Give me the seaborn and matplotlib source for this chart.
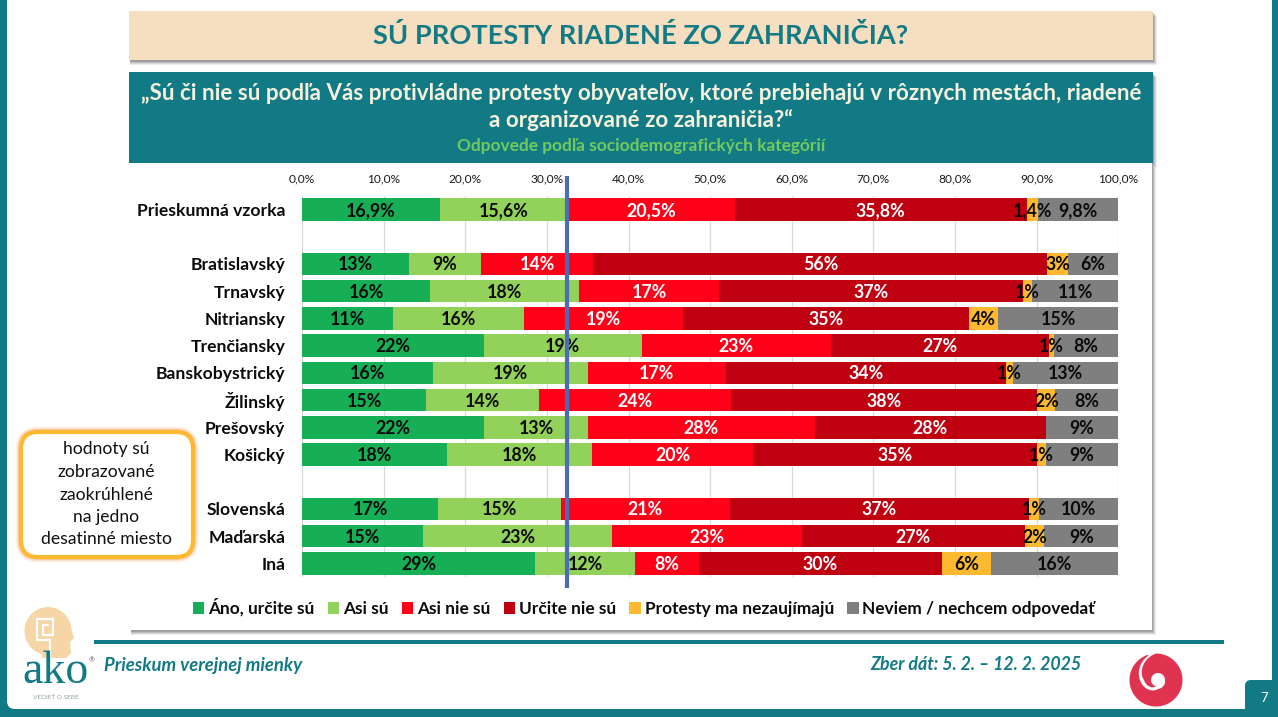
import numpy as np
import pandas as pd
import matplotlib
matplotlib.use("Agg")
import matplotlib.pyplot as plt
from matplotlib.patches import FancyBboxPatch, Rectangle, Ellipse, Polygon
import seaborn as sns

categories = ["Prieskumná vzorka", " ", "Bratislavský", "Trnavský", "Nitriansky", "Trenčiansky",
              "Banskobystrický", "Žilinský", "Prešovský", "Košický", "  ", "Slovenská", "Maďarská", "Iná"]
series_names = ["Áno, určite sú", "Asi sú", "Asi nie sú", "Určite nie sú",
                "Protesty ma nezaujímajú", "Neviem / nechcem odpovedať"]
ano = [16.9, 0, 13.1, 15.7, 11.1, 22.3, 16.1, 15.2, 22.3, 17.8, 0, 16.7, 14.8, 28.6]
asi = [15.6, 0, 8.8, 18.2, 16.1, 19.3, 18.9, 13.8, 12.7, 17.7, 0, 15.0, 23.2, 12.2]
asi_nie = [20.5, 0, 13.8, 17.2, 19.5, 23.2, 16.9, 23.6, 27.8, 19.8, 0, 20.7, 23.2, 7.8]
urcite_nie = [35.8, 0, 55.6, 37.2, 35.0, 26.7, 34.3, 37.5, 28.3, 34.7, 0, 36.6, 27.4, 29.8]
nezaujem = [1.4, 0, 2.5, 1.1, 3.6, 0.6, 0.9, 2.2, 0.0, 1.1, 0, 1.3, 2.3, 6.0]
neviem = [9.8, 0, 6.2, 10.6, 14.7, 7.9, 12.9, 7.8, 8.9, 8.9, 0, 9.7, 9.1, 15.6]

lab_ano = ["16,9%", "", "13%", "16%", "11%", "22%", "16%", "15%", "22%", "18%", "", "17%", "15%", "29%"]
lab_asi = ["15,6%", "", "9%", "18%", "16%", "19%", "19%", "14%", "13%", "18%", "", "15%", "23%", "12%"]
lab_asi_nie = ["20,5%", "", "14%", "17%", "19%", "23%", "17%", "24%", "28%", "20%", "", "21%", "23%", "8%"]
lab_urcite_nie = ["35,8%", "", "56%", "37%", "35%", "27%", "34%", "38%", "28%", "35%", "", "37%", "27%", "30%"]
lab_nezaujem = ["1,4%", "", "3%", "1%", "4%", "1%", "1%", "2%", "", "1%", "", "1%", "2%", "6%"]
lab_neviem = ["9,8%", "", "6%", "11%", "15%", "8%", "13%", "8%", "9%", "9%", "", "10%", "9%", "16%"]

tick_values = [0, 10, 20, 30, 40, 50, 60, 70, 80, 90, 100]
tick_labels = ["0,0%", "10,0%", "20,0%", "30,0%", "40,0%", "50,0%", "60,0%", "70,0%", "80,0%", "90,0%", "100,0%"]
reference_value = [32.5]

colors = ["#17AF55", "#92D25A", "#FF0019", "#BF0010", "#FDBA30", "#7F7F7F"]
label_colors = ["#0B0B0B", "#0B0B0B", "#FFFFFF", "#FFFFFF", "#0B0B0B", "#0B0B0B"]
TEAL = "#127A85"

sns.set_theme(style="white")
plt.rcParams["font.family"] = ["Lato", "DejaVu Sans"]

W, H = 1278, 717
fig = plt.figure(figsize=(W / 100, H / 100), dpi=100, facecolor="white")

# slide decoration, in pixel coordinates
bg = fig.add_axes([0, 0, 1, 1], zorder=0)
bg.set_xlim(0, W)
bg.set_ylim(H, 0)
bg.axis("off")


def box(x0, y0, x1, y1, color, z=1, **kw):
    bg.add_patch(Rectangle((x0, y0), x1 - x0, y1 - y0, facecolor=color, edgecolor="none", zorder=z, **kw))


def shadow(x0, y0, x1, y1, z=0.5):
    for d, a in [(5, 0.10), (4, 0.14), (3, 0.20), (2, 0.28)]:
        bg.add_patch(Rectangle((x0 + 1, y0 + d), x1 - x0 + d - 2, y1 - y0, facecolor="#555555",
                               edgecolor="none", alpha=a, zorder=z))


# frame
box(0, 0, W, H, TEAL, z=0.1)
bg.add_patch(FancyBboxPatch((7, -30), 1265, 739, boxstyle="round,pad=0,rounding_size=8",
                            facecolor="white", edgecolor="none", zorder=0.2))
bg.add_patch(FancyBboxPatch((1245, 680), 44, 44, boxstyle="round,pad=0,rounding_size=6",
                            facecolor=TEAL, edgecolor="none", zorder=2))
bg.text(1264, 698, "7", color="white", fontsize=9.5, ha="center", va="center", zorder=3)

# title banner
shadow(129, 11, 1153, 60)
box(129, 11, 1153, 60, "#F6DFC0")
bg.text(641, 36, "SÚ PROTESTY RIADENÉ ZO ZAHRANIČIA?", color=TEAL, fontsize=19.6, fontweight="bold",
        ha="center", va="center", zorder=3)

# question banner
shadow(129, 72, 1153, 163)
box(129, 72, 1153, 163, TEAL)
bg.text(641, 93, "„Sú či nie sú podľa Vás protivládne protesty obyvateľov, ktoré prebiehajú v rôznych mestách, riadené",
        color="#F6F1DC", fontsize=16.1, fontweight="bold", ha="center", va="center", zorder=3)
bg.text(641, 120, "a organizované zo zahraničia?“", color="#F6F1DC", fontsize=16.1, fontweight="bold",
        ha="center", va="center", zorder=3)
bg.text(641, 146, "Odpovede podľa sociodemografických kategórií", color="#72C95C", fontsize=12.45,
        fontweight="bold", ha="center", va="center", zorder=3)

# chart panel
shadow(130, 163, 1152, 630)
box(130, 163, 1152, 630, "white", z=0.8)

# footer
box(94, 640, 1224, 644, TEAL)
bg.text(104, 666, "Prieskum verejnej mienky", color=TEAL, fontsize=13.3, fontweight="bold", style="italic",
        ha="left", va="center", zorder=3)
bg.text(1081, 665, "Zber dát: 5. 2. – 12. 2. 2025", color=TEAL, fontsize=12.8, fontweight="bold", style="italic",
        ha="right", va="center", zorder=3)

# note box
for lw, a in [(11, 0.12), (8, 0.2), (6, 0.3)]:
    bg.add_patch(FancyBboxPatch((21, 432), 172, 125, boxstyle="round,pad=0,rounding_size=17",
                                facecolor="none", edgecolor="#F59A50", linewidth=lw * 0.72, alpha=a, zorder=4))
bg.add_patch(FancyBboxPatch((21, 432), 172, 125, boxstyle="round,pad=0,rounding_size=17",
                            facecolor="white", edgecolor="#FDBA30", linewidth=3.0, zorder=5))
for yy, line in zip([449, 472, 495, 517, 539],
                    ["hodnoty sú", "zobrazované", "zaokrúhlené", "na jedno", "desatinné miesto"]):
    bg.text(106.5, yy, line, color="#111111", fontsize=12.6, ha="center", va="center", zorder=6)

# AKO logo
PEACH = "#F6D5A6"
bg.add_patch(Ellipse((48, 631), 47, 48, facecolor=PEACH, edgecolor="none", zorder=2))
bg.add_patch(Polygon([[42, 650], [42, 658], [66, 658], [71, 653], [70, 642], [74, 638], [70, 625], [60, 625]],
                     facecolor=PEACH, edgecolor="none", zorder=2))
bg.plot([50, 50, 37, 37, 53, 53, 43, 43, 48], [657, 640, 640, 619, 619, 635, 635, 625, 625],
        color="white", linewidth=1.6, solid_joinstyle="miter", zorder=3)
bg.text(56, 683, "ako", color=TEAL, fontsize=33, family="Liberation Serif", ha="center", va="baseline", zorder=3)
bg.text(56, 697, "VEDIEŤ O SEBE", color="#8FA5A8", fontsize=4.6, ha="center", va="center", zorder=3)
bg.text(92, 660, "®", color="#666666", fontsize=5, ha="center", va="center", zorder=3)

# red spiral logo
ang_deg = np.linspace(110, 630, 200)
r_out = np.interp(ang_deg, [110, 450, 500, 540, 630], [26.5, 26.5, 18, 12, 6.5])
r_in = np.interp(ang_deg, [110, 180, 270, 360, 450, 540, 630], [26.5, 18, 9, 7, 7, 7, 6.5])
ang = np.radians(ang_deg)
outer = np.c_[1156 + r_out * np.cos(ang), 680 - r_out * np.sin(ang)]
inner = np.c_[1158 + r_in * np.cos(ang), 680 - r_in * np.sin(ang)]
bg.add_patch(Polygon(np.vstack([outer, inner[::-1]]), facecolor="#E03350", edgecolor="none", zorder=3))

# chart
px0, px1 = 302.0, 1118.3
py_top, py_bot = 195.9, 577.0
ax = fig.add_axes([px0 / W, 1 - py_bot / H, (px1 - px0) / W, (py_bot - py_top) / H], zorder=2)
ax.patch.set_alpha(0)

value_lists = [ano, asi, asi_nie, urcite_nie, nezaujem, neviem]
label_lists = [lab_ano, lab_asi, lab_asi_nie, lab_urcite_nie, lab_nezaujem, lab_neviem]
frame = pd.DataFrame({"kategoria": categories})
left = np.zeros(len(categories))
for name, vals, col, labs, lcol in zip(series_names, value_lists, colors, label_lists, label_colors):
    frame["hodnota"] = vals
    sns.barplot(data=frame, y="kategoria", x="hodnota", order=categories, color=col, saturation=1,
                width=0.83, left=left, errorbar=None, label=name, ax=ax, legend=False, zorder=3, linewidth=0)
    for t in ax.bar_label(ax.containers[-1], labels=labs, label_type="center", color=lcol, fontsize=12.8,
                          fontweight="bold", zorder=5):
        t.xyann = (0, -0.7)
    left = left + np.array(vals)

ax.set_xlim(0, 100)
ax.set_ylim(13.5, -0.5)
ax.set_xlabel("")
ax.set_ylabel("")
ax.xaxis.tick_top()
ax.set_xticks(tick_values)
ax.set_xticklabels(tick_labels, fontsize=8.6, color="#1A1A1A")
ax.tick_params(axis="x", length=0, pad=8)
ax.tick_params(axis="y", length=0, pad=12, labelsize=12.6, labelcolor="#0B0B0B")
for lab in ax.get_yticklabels():
    lab.set_fontweight("bold")
ax.grid(axis="x", color="#D9D9D9", linewidth=0.9, zorder=1)
ax.set_axisbelow(True)
for s in ax.spines.values():
    s.set_visible(False)

# reference line
ax.axvline(reference_value[0], ymin=(py_bot - 588) / (py_bot - py_top), ymax=(py_bot - 176) / (py_bot - py_top),
           color="#4A6DB3", linewidth=3.0, clip_on=False, zorder=6, solid_capstyle="butt")

handles, labels = ax.get_legend_handles_labels()
leg = ax.legend(handles, labels, ncol=6, loc="center left", bbox_to_anchor=((193 - px0) / (px1 - px0),
                (py_bot - 607.5) / (py_bot - py_top)), frameon=False,
                handlelength=0.66, handleheight=0.66, handletextpad=0.22, columnspacing=0.78, borderaxespad=0,
                borderpad=0, prop={"weight": "bold", "size": 12.4})
for txt in leg.get_texts():
    txt.set_color("#0B0B0B")

fig.savefig("out.png", dpi=100, facecolor="white")
